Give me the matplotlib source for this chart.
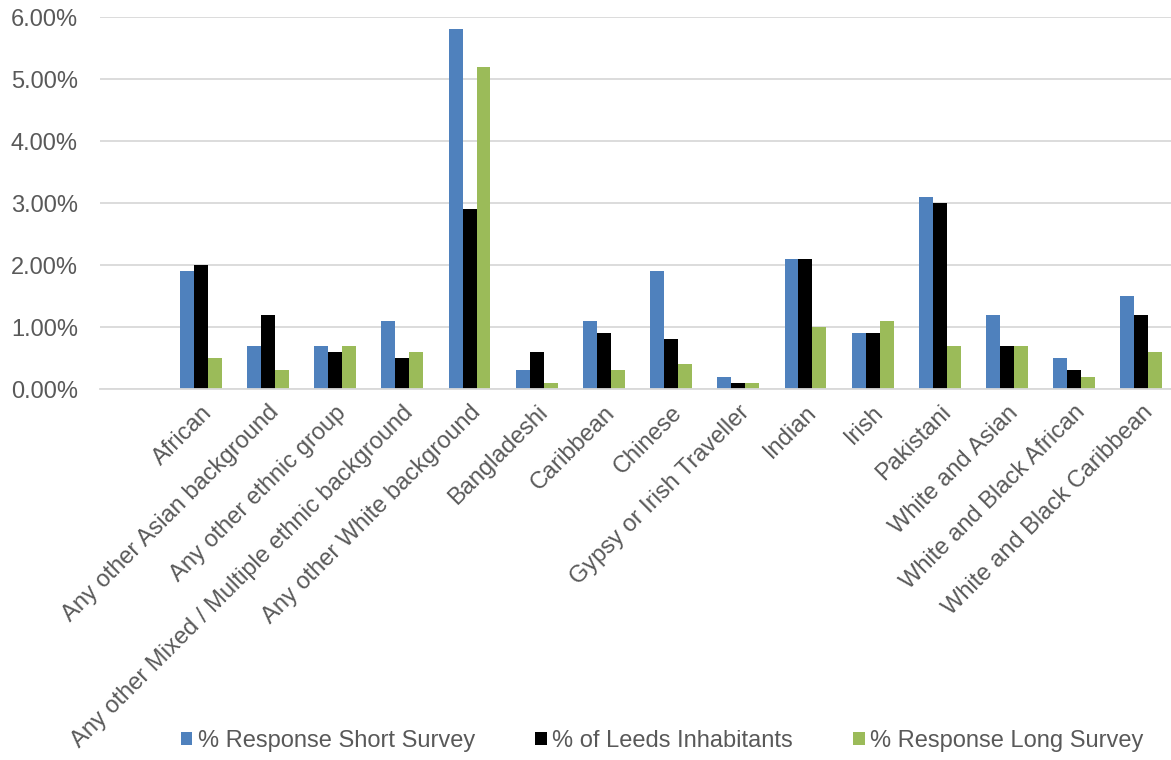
import matplotlib
matplotlib.use("Agg")
import matplotlib.pyplot as plt
import numpy as np
from matplotlib.ticker import FuncFormatter

categories = ["African", "Any other Asian background", "Any other ethnic group",
              "Any other Mixed / Multiple ethnic background", "Any other White background",
              "Bangladeshi", "Caribbean", "Chinese", "Gypsy or Irish Traveller", "Indian",
              "Irish", "Pakistani", "White and Asian", "White and Black African",
              "White and Black Caribbean"]
short_survey = [1.9, 0.7, 0.7, 1.1, 5.8, 0.3, 1.1, 1.9, 0.2, 2.1, 0.9, 3.1, 1.2, 0.5, 1.5]
leeds = [2.0, 1.2, 0.6, 0.5, 2.9, 0.6, 0.9, 0.8, 0.1, 2.1, 0.9, 3.0, 0.7, 0.3, 1.2]
long_survey = [0.5, 0.3, 0.7, 0.6, 5.2, 0.1, 0.3, 0.4, 0.1, 1.0, 1.1, 0.7, 0.7, 0.2, 0.6]
series_names = ["% Response Short Survey", "% of Leeds Inhabitants", "% Response Long Survey"]
colors = ["#4F81BD", "#000000", "#9BBB59"]

plt.rcParams['font.family'] = ['Liberation Sans', 'DejaVu Sans']
W, H = 1171, 760
fig = plt.figure(figsize=(W / 100, H / 100), dpi=100)
left, right = 100, 1175
top, bottom = 17, 389
ax = fig.add_axes([left / W, 1 - bottom / H, (right - left) / W, (bottom - top) / H])

x = np.arange(len(categories))
bw = 0.208
for i, (vals, name, c) in enumerate(zip([short_survey, leeds, long_survey], series_names, colors)):
    ax.bar(x + (i - 1) * bw, vals, width=bw, color=c, label=name, linewidth=0)

ax.set_xlim(-1.5, len(categories) - 0.5)
ax.set_ylim(0, 6)
ax.set_yticks(np.arange(0, 7, 1))
ax.yaxis.set_major_formatter(FuncFormatter(lambda v, p: f"{v:.2f}%"))
ax.grid(axis='y', color='#D9D9D9', linewidth=1.3)
ax.set_axisbelow(True)
for s in ['top', 'right', 'left']:
    ax.spines[s].set_visible(False)
ax.spines['bottom'].set_color('#D9D9D9')
ax.spines['bottom'].set_linewidth(1.3)
ax.tick_params(axis='both', length=0, labelsize=17, colors='#595959')
ax.tick_params(axis='y', pad=16)
ax.set_xticks(x)
ax.set_xticklabels(categories, rotation=45, ha='right', rotation_mode='anchor')
ax.tick_params(axis='x', pad=9)

handles, labels = ax.get_legend_handles_labels()
leg = fig.legend(handles, labels, loc='center', bbox_to_anchor=(662 / W, 1 - 741 / H), ncol=3,
                 frameon=False, fontsize=17, handlelength=0.5, handleheight=0.5,
                 handletextpad=0.22, columnspacing=2.55, labelcolor='#595959')

fig.savefig("out.png", dpi=100)
